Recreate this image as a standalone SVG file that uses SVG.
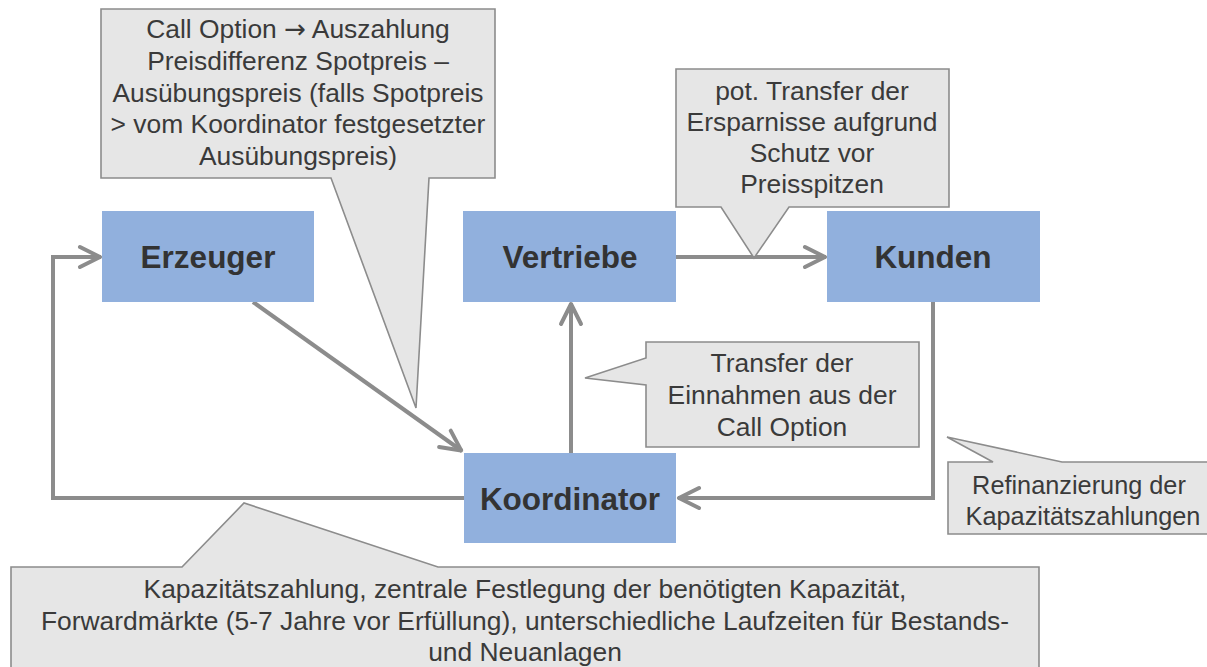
<svg xmlns="http://www.w3.org/2000/svg" width="1207" height="667" viewBox="0 0 1207 667">
<defs>
<style>
.node{fill:#91b0dd;}
.nt{font-family:"Liberation Sans",Arial,sans-serif;font-weight:bold;font-size:31.5px;fill:#333333;text-anchor:middle;}
.co{fill:#e6e6e6;stroke:#8c8c8c;stroke-width:1.6;stroke-linejoin:miter;}
.ct{font-family:"Liberation Sans",Arial,sans-serif;font-size:26.4px;fill:#3a3a3a;text-anchor:middle;}
.cs{font-size:25.3px;}
.ar{font-family:"DejaVu Sans",sans-serif;font-size:26px;}
.cn{fill:none;stroke:#8c8c8c;stroke-width:4;}
</style>
<marker id="arr" markerUnits="userSpaceOnUse" orient="auto" overflow="visible" refX="0" refY="0" markerWidth="30" markerHeight="30">
<path d="M-21,-10 L-1,0 L-21,10" fill="none" stroke="#8c8c8c" stroke-width="4" stroke-linejoin="round" stroke-linecap="round"/>
</marker>
</defs>
<rect width="1207" height="667" fill="#ffffff"/>

<g id="connectors">
<line class="cn" x1="253" y1="302" x2="462" y2="451" marker-end="url(#arr)"/>
<line class="cn" x1="676" y1="257" x2="826" y2="257" marker-end="url(#arr)"/>
<line class="cn" x1="571" y1="453" x2="571" y2="303" marker-end="url(#arr)"/>
<polyline class="cn" points="933,302 933,498 678,498" marker-end="url(#arr)"/>
<polyline class="cn" points="464,498 53,498 53,257 101,257" marker-end="url(#arr)"/>
</g>

<g id="erzeuger">
<rect class="node" x="102" y="211" width="212" height="91"/>
<text class="nt" x="208" y="268">Erzeuger</text>
</g>
<g id="vertriebe">
<rect class="node" x="463" y="211" width="213" height="91"/>
<text class="nt" x="570" y="268">Vertriebe</text>
</g>
<g id="kunden">
<rect class="node" x="827" y="211" width="213" height="91"/>
<text class="nt" x="933" y="268">Kunden</text>
</g>
<g id="koordinator">
<rect class="node" x="464" y="453" width="212" height="90"/>
<text class="nt" x="570" y="510">Koordinator</text>
</g>

<g id="callout-call-option">
<path class="co" d="M101,9 H495 V178 H429 L416,408 L331,178 H101 Z"/>
<text class="ct" x="298" y="38">Call Option <tspan class="ar">→</tspan> Auszahlung</text>
<text class="ct" x="298" y="70">Preisdifferenz Spotpreis –</text>
<text class="ct" x="298" y="102">Ausübungspreis (falls Spotpreis</text>
<text class="ct" x="298" y="133">&gt; vom Koordinator festgesetzter</text>
<text class="ct" x="298" y="165">Ausübungspreis)</text>
</g>

<g id="callout-ersparnisse">
<path class="co" d="M676,69 H949 V207 H789 L754,258 L721,207 H676 Z"/>
<text class="ct" x="812" y="100">pot. Transfer der</text>
<text class="ct" x="812" y="131">Ersparnisse aufgrund</text>
<text class="ct" x="812" y="162">Schutz vor</text>
<text class="ct" x="812" y="193">Preisspitzen</text>
</g>

<g id="callout-einnahmen">
<path class="co" d="M646,342 H919 V447 H646 V385 L585,378 L646,358 Z"/>
<text class="ct" x="782" y="372">Transfer der</text>
<text class="ct" x="782" y="404">Einnahmen aus der</text>
<text class="ct" x="782" y="436">Call Option</text>
</g>

<g id="callout-refinanzierung">
<path class="co" d="M948,462 H993 L947,437 L1062,462 H1215 V534 H948 Z"/>
<text class="ct cs" x="1079" y="494">Refinanzierung der</text>
<text class="ct cs" x="1083" y="525">Kapazitätszahlungen</text>
</g>

<g id="callout-kapazitaet">
<path class="co" d="M11,567 H182 L244,503 L438,567 H1039 V690 H11 Z"/>
<text class="ct" x="525" y="598">Kapazitätszahlung, zentrale Festlegung der benötigten Kapazität,</text>
<text class="ct" x="525" y="630">Forwardmärkte (5-7 Jahre vor Erfüllung), unterschiedliche Laufzeiten für Bestands-</text>
<text class="ct" x="525" y="661">und Neuanlagen</text>
</g>
</svg>
